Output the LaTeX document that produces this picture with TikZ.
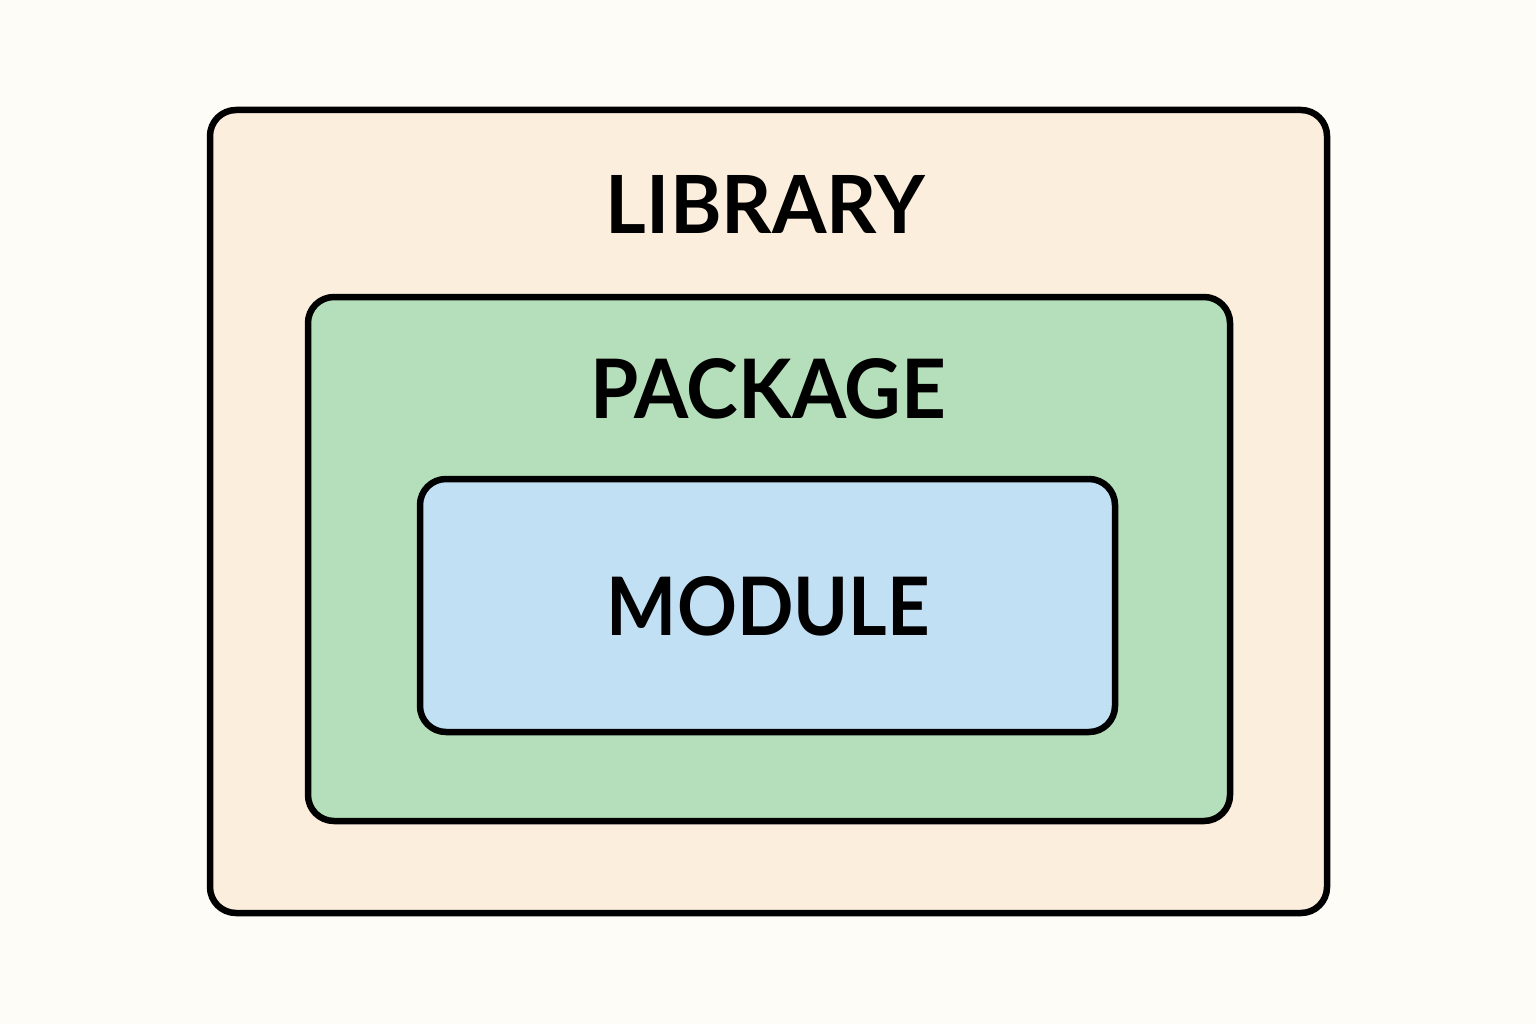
\documentclass[tikz,border=0pt]{standalone}
\usepackage{fontspec}
\setmainfont{Lato}
\usepackage{graphicx}
\definecolor{bgc}{HTML}{FEFCF6}
\definecolor{libc}{HTML}{FCEEDD}
\definecolor{pkgc}{HTML}{B5DFBA}
\definecolor{modc}{HTML}{C2E0F4}
\tikzset{
  layer/.style={draw=black, line width=6.5pt, rounded corners=26pt},
  lbl/.style={inner sep=0pt, anchor=center, text=black, font=\bfseries}
}
\begin{document}
\begin{tikzpicture}[x=1pt,y=-1pt]
\fill[bgc] (0,0) rectangle (1536,1024);
\useasboundingbox (0,0) rectangle (1536,1024);
\draw[layer, fill=libc] (210,110) rectangle (1327,913);
\draw[layer, fill=pkgc] (308,297) rectangle (1230,821);
\draw[layer, fill=modc] (420,479) rectangle (1115,732);
\node[lbl] (lib) at (765.5,204) {\resizebox{319pt}{58pt}{LIBRARY}};
\node[lbl] (pkg) at (768,388.5) {\resizebox{356pt}{60pt}{PACKAGE}};
\node[lbl] (mod) at (768.5,606.5) {\resizebox{323pt}{59pt}{MODULE}};
\end{tikzpicture}
\end{document}
